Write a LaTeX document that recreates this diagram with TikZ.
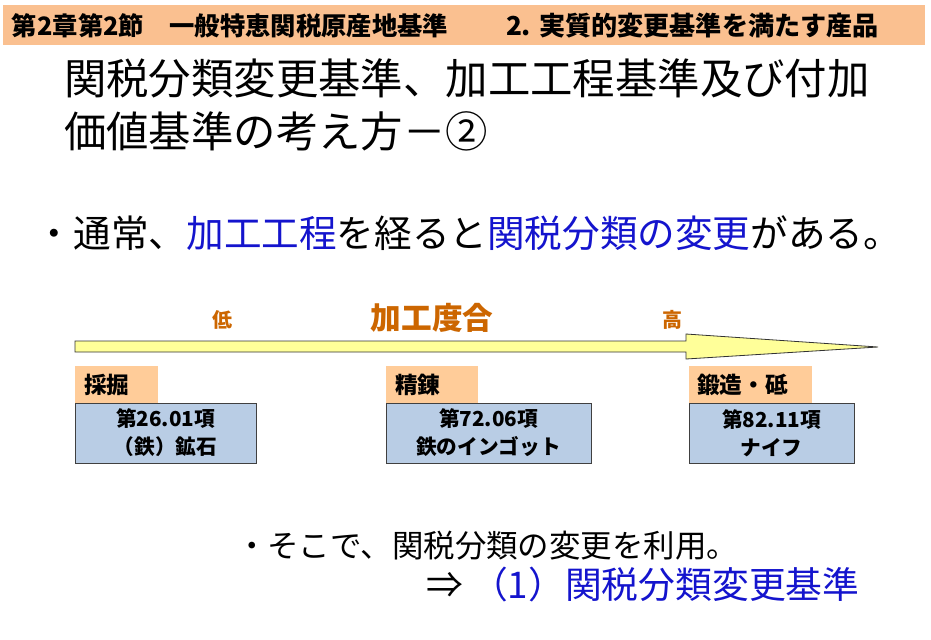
\documentclass[tikz,border=0pt]{standalone}
\usepackage{fontspec}
\setmainfont{Noto Sans CJK JP}
\definecolor{hdrband}{RGB}{250,192,144}
\definecolor{lblfill}{RGB}{255,204,153}
\definecolor{boxfill}{RGB}{185,205,229}
\definecolor{arrfill}{RGB}{255,255,153}
\definecolor{brown}{RGB}{204,102,0}
\definecolor{jblue}{RGB}{20,20,205}
\begin{document}
\begin{tikzpicture}[x=0.75pt,y=-0.75pt,
  every node/.style={inner sep=0pt, outer sep=0pt},
  hdr/.style={font=\fontsize{19}{20}\selectfont\bfseries, anchor=west},
  ttl/.style={font=\fontsize{31.8}{34}\selectfont, anchor=west},
  lbl/.style={fill=lblfill, anchor=north west, minimum height=28.5pt},
  lbltxt/.style={font=\fontsize{17}{18}\selectfont\bfseries, anchor=west},
  itembox/.style={fill=boxfill, draw=black!75, line width=0.6pt, anchor=north west,
    minimum height=45pt, align=center, font=\fontsize{15.5}{21}\selectfont\bfseries},
  lvl/.style={font=\fontsize{15}{16}\selectfont\bfseries, text=brown}
]
\useasboundingbox (0,0) rectangle (931,639);
% header
\node (band) [fill=hdrband, anchor=north west, minimum width=691.5pt, minimum height=30pt] at (3,5) {};
\node (h1) [hdr] at (12,26) {第2章第2節　一般特恵関税原産地基準};
\node (h2) [hdr, font=\fontsize{19.6}{20}\selectfont\bfseries] at (506,26) {2. 実質的変更基準を満たす産品};
% title
\node (t1) [ttl] at (64,78) {関税分類変更基準、加工工程基準及び付加};
\node (t2) [ttl] at (64,131) {価値基準の考え方－②};
% bullet
\node (b1) [anchor=west, font=\fontsize{28.2}{30}\selectfont] at (36,233)
  {・通常、\textcolor{jblue}{加工工程}を経ると\textcolor{jblue}{関税分類の変更}がある。};
% degree labels
\node (low) [lvl] at (222,320) {低};
\node (deg) [font=\fontsize{23}{25}\selectfont\bfseries, text=brown] at (432,318) {加工度合};
\node (high) [lvl] at (672,320) {高};
% arrow
\coordinate (a1) at (75,341);
\coordinate (a2) at (686,341);
\coordinate (a3) at (686,334);
\coordinate (tip) at (878,347);
\coordinate (a5) at (686,359);
\coordinate (a6) at (686,352);
\coordinate (a7) at (75,352);
\draw[fill=arrfill, draw=black!80, line width=0.6pt, line join=miter]
  (a1) -- (a2) -- (a3) -- (tip) -- (a5) -- (a6) -- (a7) -- cycle;
% stage labels
\node (l1) [lbl, minimum width=62.25pt] at (75,366) {};
\node (l1t) [lbltxt] at (84,385) {採掘};
\node (l2) [lbl, minimum width=69pt] at (386,366) {};
\node (l2t) [lbltxt] at (395,385) {精錬};
\node (l3) [lbl, minimum width=92.25pt] at (689,366) {};
\node (l3t) [lbltxt] at (697,385) {鍛造・砥};
% boxes
\node (bx1) [itembox, minimum width=135.75pt] at (75,403) {第26.01項\\（鉄）鉱石};
\node (bx2) [itembox, minimum width=153.75pt] at (386,403) {第72.06項\\鉄のインゴット};
\node (bx3) [itembox, minimum width=123.75pt] at (689,403) {第82.11項\\ナイフ};
% bottom
\node (c1) [anchor=west, font=\fontsize{23.6}{25}\selectfont] at (236,546) {・そこで、関税分類の変更を利用。};
\node (c2) [anchor=west, font=\fontsize{27.6}{29}\selectfont] at (426,585) {⇒ \textcolor{jblue}{（1）関税分類変更基準}};
\end{tikzpicture}
\end{document}
